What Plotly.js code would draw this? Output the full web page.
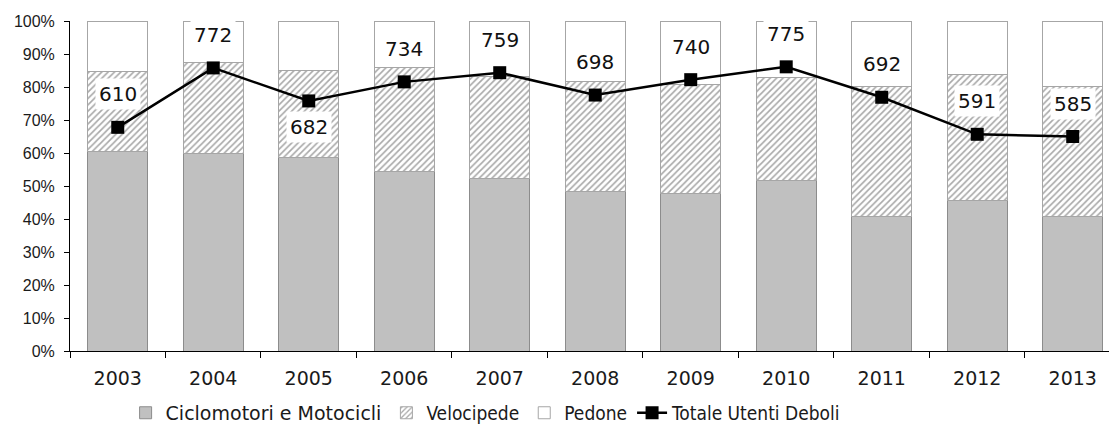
<!DOCTYPE html>
<html>
<head>
<meta charset="utf-8">
<script src="https://cdn.plot.ly/plotly-3.0.1.min.js"></script>
<style>html,body{margin:0;padding:0;background:#fff;overflow:hidden}</style>
</head>
<body>
<div id="chart" style="width:1109px;height:439px"></div>
<script>
const years = ['2003','2004','2005','2006','2007','2008','2009','2010','2011','2012','2013'];
const ciclomotori = [60.6, 59.8, 58.7, 54.5, 52.3, 48.2, 47.6, 51.7, 40.7, 45.5, 40.8];
const velocipede  = [24.2, 27.7, 26.2, 31.5, 31.0, 33.4, 33.2, 31.2, 39.4, 38.4, 39.3];
const pedone      = [15.2, 12.5, 15.1, 14.0, 16.7, 18.4, 19.2, 17.1, 19.9, 16.1, 19.9];
const totale      = [610, 772, 682, 734, 759, 698, 740, 775, 692, 591, 585];
const labelPos    = ['above','above','below','above','above','above','above','above','above','above','above'];
const yTicks      = [0,10,20,30,40,50,60,70,80,90,100];

const narrow = s => '<span style="font-family:\'Liberation Sans Narrow\',\'DejaVu Sans Condensed\',\'Liberation Sans\'">' + s + '</span>';

const traces = [
  {type:'bar', name:'Ciclomotori e Motocicli', x:years, y:ciclomotori, width:0.63,
   marker:{color:'#c0c0c0', line:{color:'#8c8c8c', width:1}}},
  {type:'bar', name:narrow('Velocipede'), x:years, y:velocipede, width:0.63,
   marker:{color:'#ffffff', line:{color:'#a6a6a6', width:1},
           pattern:{shape:'/', fgcolor:'#a8a8a8', bgcolor:'#ffffff', size:4.5, solidity:0.35}}},
  {type:'bar', name:narrow('Pedone'), x:years, y:pedone, width:0.63,
   marker:{color:'#ffffff', line:{color:'#a6a6a6', width:1}}},
  {type:'scatter', mode:'lines+markers', name:narrow('Totale Utenti Deboli'), x:years, y:totale, yaxis:'y2',
   line:{color:'#000000', width:2.5}, marker:{symbol:'square', size:13, color:'#000000'}}
];

const annotations = years.map((yr,i)=>({
  x: i, y: totale[i], xref:'x', yref:'y2', text: String(totale[i]), showarrow:false,
  yshift: labelPos[i]==='above' ? 33 : -26,
  bgcolor:'#ffffff', borderpad:3,
  font:{family:'DejaVu Sans', size:20, color:'#111'}
}));

const layout = {
  width:1109, height:439,
  margin:{l:70, r:0, t:21, b:88},
  paper_bgcolor:'#fff', plot_bgcolor:'#fff',
  barmode:'stack', showlegend:true,
  xaxis:{type:'category', range:[-0.5, 10.38], showgrid:false, zeroline:false,
         showline:true, linecolor:'#000', linewidth:1,
         ticks:'outside', tickson:'boundaries', ticklen:6, tickcolor:'#000',
         ticklabelstandoff:10,
         tickfont:{family:'DejaVu Sans', size:19, color:'#1a1a1a'}},
  yaxis:{range:[0,100], tickvals:yTicks, ticktext:yTicks.map(v=>v+'%'),
         showgrid:false, zeroline:false, showline:true, linecolor:'#000', linewidth:1,
         ticks:'outside', ticklen:5, tickcolor:'#000', ticklabelstandoff:6,
         tickfont:{family:'"Liberation Sans", Arial, sans-serif', size:16, color:'#1a1a1a'}},
  yaxis2:{range:[0,900], overlaying:'y', side:'right', visible:true,
          showticklabels:false, showline:false, showgrid:false, zeroline:false, ticks:''},
  legend:{orientation:'h', x:0.40, xanchor:'center', y:-0.13, yanchor:'top', traceorder:'normal',
          font:{family:'DejaVu Sans', size:19, color:'#1a1a1a'}, itemwidth:30, tracegroupgap:0},
  annotations: annotations
};

Plotly.newPlot('chart', traces, layout, {displayModeBar:false, staticPlot:true});
</script>
</body>
</html>
